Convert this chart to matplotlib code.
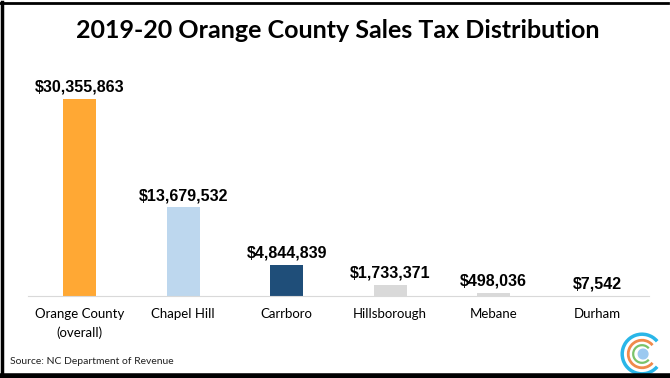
import matplotlib
matplotlib.use("Agg")
import matplotlib.pyplot as plt
from matplotlib.lines import Line2D
from matplotlib.patches import Arc, Circle

# data
places = ["Orange County\n(overall)", "Chapel Hill", "Carrboro", "Hillsborough", "Mebane", "Durham"]
amounts = [30355863, 13679532, 4844839, 1733371, 498036, 7542]
colors = ["#FFA834", "#BDD7EE", "#1F4E79", "#D9D9D9", "#D9D9D9", "#D9D9D9"]

W, H = 670, 378
fig = plt.figure(figsize=(6.7, 3.78), dpi=100)
ax = fig.add_axes([28 / W, 1 - 296 / H, 621 / W, 227 / H])

x = range(len(places))
ax.bar(x, amounts, width=0.32, color=colors)
for i, v in enumerate(amounts):
    ax.annotate("${:,}".format(v), (i, v), xytext=(0, 3), textcoords="offset points",
                ha="center", va="bottom", fontsize=11.5, fontweight="bold",
                family="Liberation Sans")

ax.set_xlim(-0.5, len(places) - 0.5)
ax.set_ylim(0, 35000000)
ax.set_xticks(list(x))
ax.set_xticklabels(places, fontsize=9.5, family="Lato", linespacing=1.6)
ax.tick_params(axis="x", length=0, pad=9)
ax.set_yticks([])
for s in ["top", "right", "left"]:
    ax.spines[s].set_visible(False)
ax.spines["bottom"].set_color("#D9D9D9")

fig.text(338 / W, 1 - 31 / H, "2019-20 Orange County Sales Tax Distribution",
         ha="center", va="center", fontsize=18, fontweight="bold", family="Lato")
fig.text(10 / W, 1 - 362 / H, "Source: NC Department of Revenue",
         ha="left", va="center", fontsize=7.5, family="Lato", color="#222222")

# frame
fig.add_artist(Line2D([1.5 / W, 1.5 / W], [0, 1 - 2 / H], color="black", lw=2.5))
fig.add_artist(Line2D([0, 668 / W], [1 - 3 / H, 1 - 3 / H], color="black", lw=2))
fig.add_artist(Line2D([0, 1], [2.5 / H, 2.5 / H], color="black", lw=4))

# logo
cx, cy = 642 / W, 1 - 354 / H
lax = fig.add_axes([cx - 22 / W, cy - 22 / H, 44 / W, 44 / H])
lax.set_xlim(-1, 1)
lax.set_ylim(-1, 1)
lax.set_aspect("equal")
lax.axis("off")
lax.add_patch(Arc((0, 0), 1.8, 1.8, theta1=40, theta2=320, color="#29B6E8", lw=2.5))
lax.add_patch(Arc((0, 0), 1.25, 1.25, theta1=40, theta2=320, color="#F08A4B", lw=2))
lax.add_patch(Arc((0, 0), 0.8, 0.8, theta1=40, theta2=320, color="#7AC36A", lw=1.6))
lax.add_patch(Circle((0.05, 0), 0.22, color="#9CC9F0"))

fig.savefig("out.png", dpi=100)
